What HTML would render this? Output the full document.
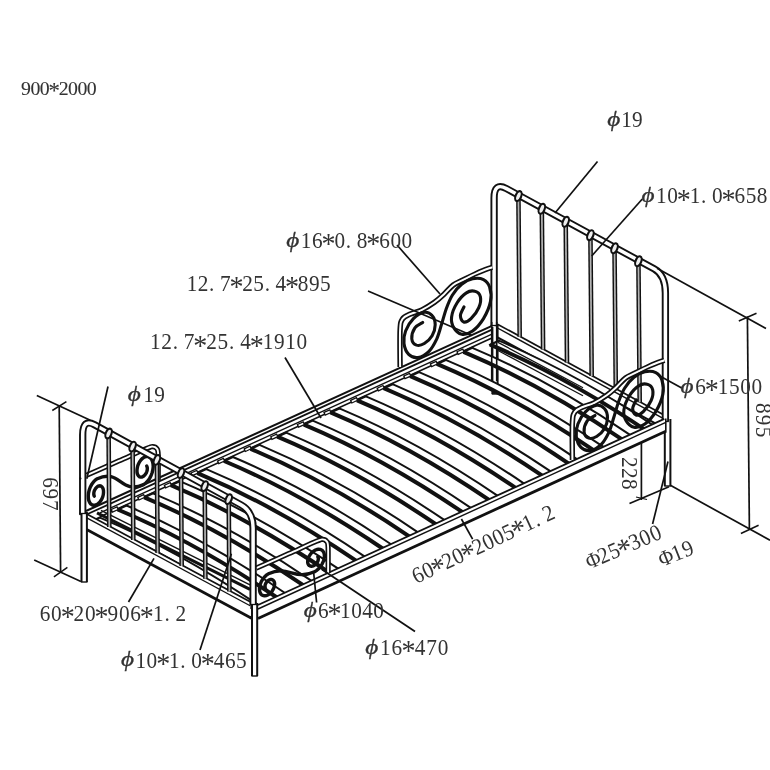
<!DOCTYPE html>
<html lang="en">
<head>
<meta charset="utf-8">
<title>Bed frame drawing 900*2000</title>
<style>
html,body{margin:0;padding:0;background:#fff;}
body{width:770px;height:770px;overflow:hidden;}
svg{display:block;font-family:"Liberation Serif","DejaVu Serif",serif;filter:blur(0.55px);}
</style>
</head>
<body>
<svg width="770" height="770" viewBox="0 0 770 770">
<rect x="0" y="0" width="770" height="770" fill="#fff"/>
<path d="M497.5,324.2 L664,415" fill="none" stroke="#111" stroke-width="1.7" stroke-linecap="butt" stroke-linejoin="round"/>
<path d="M497.5,328 L664,418.8" fill="none" stroke="#111" stroke-width="1.4" stroke-linecap="butt" stroke-linejoin="round"/>
<path d="M497.5,337.4 L664,428.2" fill="none" stroke="#111" stroke-width="2.1" stroke-linecap="butt" stroke-linejoin="round"/>
<path d="M497.5,342.1 L664,432.9" fill="none" stroke="#111" stroke-width="1.4" stroke-linecap="butt" stroke-linejoin="round"/>
<path d="M86,511 L492.5,325.6" fill="none" stroke="#111" stroke-width="2" stroke-linecap="butt" stroke-linejoin="round"/>
<path d="M86,514.8 L492.5,329.4" fill="none" stroke="#111" stroke-width="1.8" stroke-linecap="butt" stroke-linejoin="round"/>
<path d="M100,512.8 L492.5,333.8" fill="none" stroke="#111" stroke-width="1.4" stroke-linecap="butt" stroke-linejoin="round"/>
<path d="M100,516.8 L492.5,337.8" fill="none" stroke="#111" stroke-width="1.6" stroke-linecap="butt" stroke-linejoin="round"/>
<path d="M518.4,195.1 L519.7,336.8" fill="none" stroke="#111" stroke-width="4.6" stroke-linecap="butt" stroke-linejoin="round"/>
<path d="M518.4,195.1 L519.7,336.8" fill="none" stroke="#b4b4b4" stroke-width="1.7" stroke-linecap="butt" stroke-linejoin="round"/>
<path d="M541.8,207.8 L543.1,349.6" fill="none" stroke="#111" stroke-width="4.6" stroke-linecap="butt" stroke-linejoin="round"/>
<path d="M541.8,207.8 L543.1,349.6" fill="none" stroke="#b4b4b4" stroke-width="1.7" stroke-linecap="butt" stroke-linejoin="round"/>
<path d="M565.7,220.8 L567,362.6" fill="none" stroke="#111" stroke-width="4.6" stroke-linecap="butt" stroke-linejoin="round"/>
<path d="M565.7,220.8 L567,362.6" fill="none" stroke="#b4b4b4" stroke-width="1.7" stroke-linecap="butt" stroke-linejoin="round"/>
<path d="M590.4,234.2 L591.7,376.1" fill="none" stroke="#111" stroke-width="4.6" stroke-linecap="butt" stroke-linejoin="round"/>
<path d="M590.4,234.2 L591.7,376.1" fill="none" stroke="#b4b4b4" stroke-width="1.7" stroke-linecap="butt" stroke-linejoin="round"/>
<path d="M614.5,247.3 L615.8,389.2" fill="none" stroke="#111" stroke-width="4.6" stroke-linecap="butt" stroke-linejoin="round"/>
<path d="M614.5,247.3 L615.8,389.2" fill="none" stroke="#b4b4b4" stroke-width="1.7" stroke-linecap="butt" stroke-linejoin="round"/>
<path d="M638.4,260.3 L639.7,402.2" fill="none" stroke="#111" stroke-width="4.6" stroke-linecap="butt" stroke-linejoin="round"/>
<path d="M638.4,260.3 L639.7,402.2" fill="none" stroke="#b4b4b4" stroke-width="1.7" stroke-linecap="butt" stroke-linejoin="round"/>
<path d="M495,324 L495,394" fill="none" stroke="#111" stroke-width="7.2" stroke-linecap="butt" stroke-linejoin="round"/>
<path d="M495,324 L495,394" fill="none" stroke="#fff" stroke-width="3.2" stroke-linecap="butt" stroke-linejoin="round"/>
<path d="M667.6,419 L667.6,486" fill="none" stroke="#111" stroke-width="7.6" stroke-linecap="butt" stroke-linejoin="round"/>
<path d="M667.6,419 L667.6,486" fill="none" stroke="#fff" stroke-width="3.6" stroke-linecap="butt" stroke-linejoin="round"/>
<path d="M491.8,394 L498.2,394" fill="none" stroke="#111" stroke-width="1.4" stroke-linecap="butt" stroke-linejoin="round"/>
<path d="M664.2,486 L671,486" fill="none" stroke="#111" stroke-width="1.4" stroke-linecap="butt" stroke-linejoin="round"/>
<path d="M494.1,327 L494.1,198 Q494.1,181.9 506.5,188.6 L654,268.8 Q665.4,275 665.4,293 L665.4,421.5" fill="none" stroke="#111" stroke-width="7.3" stroke-linecap="butt" stroke-linejoin="round"/>
<path d="M494.1,327 L494.1,198 Q494.1,181.9 506.5,188.6 L654,268.8 Q665.4,275 665.4,293 L665.4,421.5" fill="none" stroke="#fff" stroke-width="3.5" stroke-linecap="butt" stroke-linejoin="round"/>
<path d="M662,421.5 L668.8,421.5" fill="none" stroke="#111" stroke-width="1.3" stroke-linecap="butt" stroke-linejoin="round"/>
<path d="M490.7,325.5 L497.7,325.5" fill="none" stroke="#111" stroke-width="1.3" stroke-linecap="butt" stroke-linejoin="round"/>
<ellipse cx="518.4" cy="196.1" rx="2.8" ry="5.2" fill="#eee" stroke="#111" stroke-width="2.1" transform="rotate(22 518.4 196.1)"/>
<ellipse cx="541.8" cy="208.8" rx="2.8" ry="5.2" fill="#eee" stroke="#111" stroke-width="2.1" transform="rotate(22 541.8 208.8)"/>
<ellipse cx="565.7" cy="221.8" rx="2.8" ry="5.2" fill="#eee" stroke="#111" stroke-width="2.1" transform="rotate(22 565.7 221.8)"/>
<ellipse cx="590.4" cy="235.2" rx="2.8" ry="5.2" fill="#eee" stroke="#111" stroke-width="2.1" transform="rotate(22 590.4 235.2)"/>
<ellipse cx="614.5" cy="248.3" rx="2.8" ry="5.2" fill="#eee" stroke="#111" stroke-width="2.1" transform="rotate(22 614.5 248.3)"/>
<ellipse cx="638.4" cy="261.3" rx="2.8" ry="5.2" fill="#eee" stroke="#111" stroke-width="2.1" transform="rotate(22 638.4 261.3)"/>
<path d="M400.1,367 C400.1,360.8 399.7,338 400.1,330 C400.5,322 400.8,321.7 402.5,319 C404.2,316.3 407.2,315.5 410.5,314 C413.8,312.5 418,311.8 422,309.8 C426,307.8 430.8,304.8 434.5,302.2 C438.2,299.6 440.9,297.1 444,294.2 C447.1,291.3 450.2,287.3 453.3,285 C456.4,282.7 458.4,282.3 462.5,280.2 C466.6,278.1 473.1,274.8 478,272.6 C482.9,270.4 489.7,268.1 492,267.2" fill="none" stroke="#111" stroke-width="5.4" stroke-linecap="butt" stroke-linejoin="round"/>
<path d="M400.1,367 C400.1,360.8 399.7,338 400.1,330 C400.5,322 400.8,321.7 402.5,319 C404.2,316.3 407.2,315.5 410.5,314 C413.8,312.5 418,311.8 422,309.8 C426,307.8 430.8,304.8 434.5,302.2 C438.2,299.6 440.9,297.1 444,294.2 C447.1,291.3 450.2,287.3 453.3,285 C456.4,282.7 458.4,282.3 462.5,280.2 C466.6,278.1 473.1,274.8 478,272.6 C482.9,270.4 489.7,268.1 492,267.2" fill="none" stroke="#fff" stroke-width="2" stroke-linecap="butt" stroke-linejoin="round"/>
<path d="M464,306.9 C463.4,308.3 460.5,312.9 460.4,315.5 C460.4,318 461.8,321.5 463.6,322 C465.3,322.5 468.5,321 471,318.6 C473.6,316.2 477.3,311.3 478.8,307.7 C480.4,304 481,299.5 480.4,296.8 C479.7,294 477.3,291.9 474.9,291.3 C472.6,290.6 469.3,290.9 466.4,292.9 C463.4,294.8 459.5,299 457,303 C454.5,307 452.1,312.9 451.6,317 C451,321.2 452.2,325.1 453.9,327.9 C455.6,330.8 458.6,333.6 461.7,334.2 C464.8,334.7 469,333.6 472.6,331 C476.2,328.4 480.5,323.5 483.5,318.6 C486.5,313.6 489.5,306.6 490.5,301.4 C491.6,296.2 490.9,291 489.7,287.4 C488.6,283.8 486.4,281 483.5,279.6 C480.6,278.2 476.2,278.1 472.6,278.8 C469,279.6 465.1,281.6 461.7,284.3 C458.3,287 454.9,291 452.3,295.2 C449.7,299.3 447.9,304.3 446.1,309.2 C444.3,314.2 443,319.9 441.4,324.8 C439.9,329.7 438.8,334.4 436.8,338.8 C434.7,343.2 432.1,348.2 429,351.3 C425.8,354.4 421.4,357 418.1,357.5 C414.7,358 411,356.7 408.7,354.4 C406.4,352.1 404.5,347.4 404,343.5 C403.5,339.6 404,335.2 405.6,331 C407.1,326.9 410.3,321.7 413.4,318.6 C416.5,315.5 421.2,312.9 424.3,312.3 C427.4,311.8 430.3,313.4 432.1,315.5 C433.9,317.5 435.2,321.4 435.2,324.8 C435.2,328.2 433.9,332.6 432.1,335.7 C430.3,338.8 426.9,341.9 424.3,343.5 C421.7,345.1 418.6,345.8 416.5,345.1 C414.4,344.3 412.1,341.7 411.8,338.8 C411.6,336 413.1,330.6 414.9,327.9 C416.8,325.2 421.4,323.4 422.7,322.5" fill="none" stroke="#111" stroke-width="3.1" stroke-linecap="round" stroke-linejoin="round"/>
<path d="M94.3,496.2 L94,495.5 L93.8,494.6 L93.8,493.6 L93.9,492.4 L94.2,491.2 L94.7,490 L95.4,488.8 L96.2,487.7 L97.1,486.9 L98.1,486.2 L99.1,485.9 L100.1,485.8 L101.1,486.2 L102,486.8 L102.7,487.9 L103.2,489.2 L103.5,490.8 L103.5,492.6 L103.3,494.6 L102.8,496.6 L102,498.7 L100.9,500.6 L99.7,502.2 L98.2,503.6 L96.7,504.6 L95.1,505.2 L93.5,505.3 L92.1,504.9 L90.7,503.9 L89.7,502.5 L88.8,500.6 L88.4,498.4 L88.3,495.8 L88.5,493 L89.2,490.1 L90.2,487.3 L91.6,484.6 L93.3,482.2 L95.2,480.2 L97.3,478.7 C120.3,468.2 120.6,495.1 143.6,484.6 L145.8,483 L147.8,480.9 L149.6,478.4 L151.1,475.5 L152.2,472.5 L152.9,469.5 L153.2,466.6 L153,463.9 L152.5,461.5 L151.7,459.5 L150.5,458 L149.1,457 L147.6,456.5 L145.9,456.6 L144.2,457.2 L142.6,458.3 L141.1,459.8 L139.8,461.5 L138.7,463.5 L137.8,465.7 L137.3,467.8 L137,469.9 L137,471.9 L137.3,473.6 L137.9,475 L138.6,476 L139.6,476.8 L140.6,477.1 L141.7,477.1 L142.8,476.7 L143.8,476 L144.8,475.1 L145.6,474 L146.3,472.8 L146.8,471.5 L147.2,470.2 L147.3,468.9 L147.3,467.8 L147.1,466.9 L146.7,466.1" fill="none" stroke="#111" stroke-width="3.4" stroke-linecap="round" stroke-linejoin="round"/>
<path d="M86.3,475.3 C91.7,472.9 108.7,465.4 118.8,460.9 C128.9,456.4 141.1,450.8 146.8,448.4 C152.5,446 151.1,446.6 152.8,446.6 C154.5,446.6 155.9,447.3 156.8,448.6 C157.7,449.9 158,449.3 158.2,454.5 C158.4,459.7 158.2,475.8 158.2,480" fill="none" stroke="#111" stroke-width="5.2" stroke-linecap="butt" stroke-linejoin="round"/>
<path d="M86.3,475.3 C91.7,472.9 108.7,465.4 118.8,460.9 C128.9,456.4 141.1,450.8 146.8,448.4 C152.5,446 151.1,446.6 152.8,446.6 C154.5,446.6 155.9,447.3 156.8,448.6 C157.7,449.9 158,449.3 158.2,454.5 C158.4,459.7 158.2,475.8 158.2,480" fill="none" stroke="#fff" stroke-width="1.9" stroke-linecap="butt" stroke-linejoin="round"/>
<path d="M498.9,340.7 Q577.4,373.7 658.9,429.2 L650.1,433.2 Q568.6,377.7 490.1,344.7Z" fill="#fff" stroke="none" stroke-width="0" stroke-linecap="butt" stroke-linejoin="round"/>
<path d="M498.9,340.7 Q577.4,373.7 658.9,429.2" fill="none" stroke="#111" stroke-width="2" stroke-linecap="butt" stroke-linejoin="round"/>
<path d="M490.1,344.7 Q568.6,377.7 650.1,433.2" fill="none" stroke="#111" stroke-width="4" stroke-linecap="butt" stroke-linejoin="round"/>
<path d="M489.1,345.2 L499.9,340.2" fill="none" stroke="#111" stroke-width="2.2" stroke-linecap="butt" stroke-linejoin="round"/>
<path d="M472.3,347.8 Q550.8,380.8 632.3,436.3 L623.5,440.3 Q542,384.8 463.5,351.8Z" fill="#fff" stroke="none" stroke-width="0" stroke-linecap="butt" stroke-linejoin="round"/>
<path d="M472.3,347.8 Q550.8,380.8 632.3,436.3" fill="none" stroke="#111" stroke-width="2" stroke-linecap="butt" stroke-linejoin="round"/>
<path d="M463.5,351.8 Q542,384.8 623.5,440.3" fill="none" stroke="#111" stroke-width="4" stroke-linecap="butt" stroke-linejoin="round"/>
<path d="M462.5,352.3 L473.3,347.3" fill="none" stroke="#111" stroke-width="2.2" stroke-linecap="butt" stroke-linejoin="round"/>
<path d="M457,353.4 L464,350.2" fill="none" stroke="#111" stroke-width="4.2" stroke-linecap="butt" stroke-linejoin="round"/>
<path d="M458.2,352.8 L462.8,350.7" fill="none" stroke="#fff" stroke-width="1.6" stroke-linecap="butt" stroke-linejoin="round"/>
<path d="M445.7,359.9 Q524.2,392.9 605.7,448.4 L596.9,452.4 Q515.4,396.9 436.9,363.9Z" fill="#fff" stroke="none" stroke-width="0" stroke-linecap="butt" stroke-linejoin="round"/>
<path d="M445.7,359.9 Q524.2,392.9 605.7,448.4" fill="none" stroke="#111" stroke-width="2" stroke-linecap="butt" stroke-linejoin="round"/>
<path d="M436.9,363.9 Q515.4,396.9 596.9,452.4" fill="none" stroke="#111" stroke-width="4" stroke-linecap="butt" stroke-linejoin="round"/>
<path d="M435.9,364.4 L446.7,359.4" fill="none" stroke="#111" stroke-width="2.2" stroke-linecap="butt" stroke-linejoin="round"/>
<path d="M430.4,365.5 L437.4,362.3" fill="none" stroke="#111" stroke-width="4.2" stroke-linecap="butt" stroke-linejoin="round"/>
<path d="M431.6,365 L436.2,362.9" fill="none" stroke="#fff" stroke-width="1.6" stroke-linecap="butt" stroke-linejoin="round"/>
<path d="M419.1,372.1 Q497.6,405.1 579.1,460.6 L570.3,464.6 Q488.8,409.1 410.3,376.1Z" fill="#fff" stroke="none" stroke-width="0" stroke-linecap="butt" stroke-linejoin="round"/>
<path d="M419.1,372.1 Q497.6,405.1 579.1,460.6" fill="none" stroke="#111" stroke-width="2" stroke-linecap="butt" stroke-linejoin="round"/>
<path d="M410.3,376.1 Q488.8,409.1 570.3,464.6" fill="none" stroke="#111" stroke-width="4" stroke-linecap="butt" stroke-linejoin="round"/>
<path d="M409.3,376.6 L420.1,371.6" fill="none" stroke="#111" stroke-width="2.2" stroke-linecap="butt" stroke-linejoin="round"/>
<path d="M403.8,377.7 L410.8,374.5" fill="none" stroke="#111" stroke-width="4.2" stroke-linecap="butt" stroke-linejoin="round"/>
<path d="M405,377.1 L409.6,375" fill="none" stroke="#fff" stroke-width="1.6" stroke-linecap="butt" stroke-linejoin="round"/>
<path d="M392.5,384.2 Q471,417.2 552.5,472.7 L543.7,476.7 Q462.2,421.2 383.7,388.2Z" fill="#fff" stroke="none" stroke-width="0" stroke-linecap="butt" stroke-linejoin="round"/>
<path d="M392.5,384.2 Q471,417.2 552.5,472.7" fill="none" stroke="#111" stroke-width="2" stroke-linecap="butt" stroke-linejoin="round"/>
<path d="M383.7,388.2 Q462.2,421.2 543.7,476.7" fill="none" stroke="#111" stroke-width="4" stroke-linecap="butt" stroke-linejoin="round"/>
<path d="M382.7,388.7 L393.5,383.7" fill="none" stroke="#111" stroke-width="2.2" stroke-linecap="butt" stroke-linejoin="round"/>
<path d="M377.2,389.8 L384.2,386.6" fill="none" stroke="#111" stroke-width="4.2" stroke-linecap="butt" stroke-linejoin="round"/>
<path d="M378.4,389.2 L383,387.1" fill="none" stroke="#fff" stroke-width="1.6" stroke-linecap="butt" stroke-linejoin="round"/>
<path d="M365.9,396.3 Q444.4,429.3 525.9,484.8 L517.1,488.8 Q435.6,433.3 357.1,400.3Z" fill="#fff" stroke="none" stroke-width="0" stroke-linecap="butt" stroke-linejoin="round"/>
<path d="M365.9,396.3 Q444.4,429.3 525.9,484.8" fill="none" stroke="#111" stroke-width="2" stroke-linecap="butt" stroke-linejoin="round"/>
<path d="M357.1,400.3 Q435.6,433.3 517.1,488.8" fill="none" stroke="#111" stroke-width="4" stroke-linecap="butt" stroke-linejoin="round"/>
<path d="M356.1,400.8 L366.9,395.8" fill="none" stroke="#111" stroke-width="2.2" stroke-linecap="butt" stroke-linejoin="round"/>
<path d="M350.6,401.9 L357.6,398.7" fill="none" stroke="#111" stroke-width="4.2" stroke-linecap="butt" stroke-linejoin="round"/>
<path d="M351.8,401.4 L356.4,399.3" fill="none" stroke="#fff" stroke-width="1.6" stroke-linecap="butt" stroke-linejoin="round"/>
<path d="M339.3,408.4 Q417.8,441.4 499.3,496.9 L490.5,500.9 Q409,445.4 330.5,412.4Z" fill="#fff" stroke="none" stroke-width="0" stroke-linecap="butt" stroke-linejoin="round"/>
<path d="M339.3,408.4 Q417.8,441.4 499.3,496.9" fill="none" stroke="#111" stroke-width="2" stroke-linecap="butt" stroke-linejoin="round"/>
<path d="M330.5,412.4 Q409,445.4 490.5,500.9" fill="none" stroke="#111" stroke-width="4" stroke-linecap="butt" stroke-linejoin="round"/>
<path d="M329.5,412.9 L340.3,407.9" fill="none" stroke="#111" stroke-width="2.2" stroke-linecap="butt" stroke-linejoin="round"/>
<path d="M324,414 L331,410.8" fill="none" stroke="#111" stroke-width="4.2" stroke-linecap="butt" stroke-linejoin="round"/>
<path d="M325.2,413.5 L329.8,411.4" fill="none" stroke="#fff" stroke-width="1.6" stroke-linecap="butt" stroke-linejoin="round"/>
<path d="M312.7,420.6 Q391.2,453.6 472.7,509.1 L463.9,513.1 Q382.4,457.6 303.9,424.6Z" fill="#fff" stroke="none" stroke-width="0" stroke-linecap="butt" stroke-linejoin="round"/>
<path d="M312.7,420.6 Q391.2,453.6 472.7,509.1" fill="none" stroke="#111" stroke-width="2" stroke-linecap="butt" stroke-linejoin="round"/>
<path d="M303.9,424.6 Q382.4,457.6 463.9,513.1" fill="none" stroke="#111" stroke-width="4" stroke-linecap="butt" stroke-linejoin="round"/>
<path d="M302.9,425.1 L313.7,420.1" fill="none" stroke="#111" stroke-width="2.2" stroke-linecap="butt" stroke-linejoin="round"/>
<path d="M297.4,426.2 L304.4,423" fill="none" stroke="#111" stroke-width="4.2" stroke-linecap="butt" stroke-linejoin="round"/>
<path d="M298.6,425.6 L303.2,423.5" fill="none" stroke="#fff" stroke-width="1.6" stroke-linecap="butt" stroke-linejoin="round"/>
<path d="M286.1,432.7 Q364.6,465.7 446.1,521.2 L437.3,525.2 Q355.8,469.7 277.3,436.7Z" fill="#fff" stroke="none" stroke-width="0" stroke-linecap="butt" stroke-linejoin="round"/>
<path d="M286.1,432.7 Q364.6,465.7 446.1,521.2" fill="none" stroke="#111" stroke-width="2" stroke-linecap="butt" stroke-linejoin="round"/>
<path d="M277.3,436.7 Q355.8,469.7 437.3,525.2" fill="none" stroke="#111" stroke-width="4" stroke-linecap="butt" stroke-linejoin="round"/>
<path d="M276.3,437.2 L287.1,432.2" fill="none" stroke="#111" stroke-width="2.2" stroke-linecap="butt" stroke-linejoin="round"/>
<path d="M270.8,438.3 L277.8,435.1" fill="none" stroke="#111" stroke-width="4.2" stroke-linecap="butt" stroke-linejoin="round"/>
<path d="M272,437.8 L276.6,435.6" fill="none" stroke="#fff" stroke-width="1.6" stroke-linecap="butt" stroke-linejoin="round"/>
<path d="M259.5,444.8 Q338,477.8 419.5,533.3 L410.7,537.3 Q329.2,481.8 250.7,448.8Z" fill="#fff" stroke="none" stroke-width="0" stroke-linecap="butt" stroke-linejoin="round"/>
<path d="M259.5,444.8 Q338,477.8 419.5,533.3" fill="none" stroke="#111" stroke-width="2" stroke-linecap="butt" stroke-linejoin="round"/>
<path d="M250.7,448.8 Q329.2,481.8 410.7,537.3" fill="none" stroke="#111" stroke-width="4" stroke-linecap="butt" stroke-linejoin="round"/>
<path d="M249.7,449.3 L260.5,444.3" fill="none" stroke="#111" stroke-width="2.2" stroke-linecap="butt" stroke-linejoin="round"/>
<path d="M244.2,450.4 L251.2,447.2" fill="none" stroke="#111" stroke-width="4.2" stroke-linecap="butt" stroke-linejoin="round"/>
<path d="M245.4,449.9 L250,447.8" fill="none" stroke="#fff" stroke-width="1.6" stroke-linecap="butt" stroke-linejoin="round"/>
<path d="M232.9,457 Q311.4,490 392.9,545.5 L384.1,549.5 Q302.6,494 224.1,461Z" fill="#fff" stroke="none" stroke-width="0" stroke-linecap="butt" stroke-linejoin="round"/>
<path d="M232.9,457 Q311.4,490 392.9,545.5" fill="none" stroke="#111" stroke-width="2" stroke-linecap="butt" stroke-linejoin="round"/>
<path d="M224.1,461 Q302.6,494 384.1,549.5" fill="none" stroke="#111" stroke-width="4" stroke-linecap="butt" stroke-linejoin="round"/>
<path d="M223.1,461.5 L233.9,456.5" fill="none" stroke="#111" stroke-width="2.2" stroke-linecap="butt" stroke-linejoin="round"/>
<path d="M217.6,462.6 L224.6,459.4" fill="none" stroke="#111" stroke-width="4.2" stroke-linecap="butt" stroke-linejoin="round"/>
<path d="M218.8,462 L223.4,459.9" fill="none" stroke="#fff" stroke-width="1.6" stroke-linecap="butt" stroke-linejoin="round"/>
<path d="M206.3,469.1 Q284.8,502.1 366.3,557.6 L357.5,561.6 Q276,506.1 197.5,473.1Z" fill="#fff" stroke="none" stroke-width="0" stroke-linecap="butt" stroke-linejoin="round"/>
<path d="M206.3,469.1 Q284.8,502.1 366.3,557.6" fill="none" stroke="#111" stroke-width="2" stroke-linecap="butt" stroke-linejoin="round"/>
<path d="M197.5,473.1 Q276,506.1 357.5,561.6" fill="none" stroke="#111" stroke-width="4" stroke-linecap="butt" stroke-linejoin="round"/>
<path d="M196.5,473.6 L207.3,468.6" fill="none" stroke="#111" stroke-width="2.2" stroke-linecap="butt" stroke-linejoin="round"/>
<path d="M191,474.7 L198,471.5" fill="none" stroke="#111" stroke-width="4.2" stroke-linecap="butt" stroke-linejoin="round"/>
<path d="M192.2,474.1 L196.8,472" fill="none" stroke="#fff" stroke-width="1.6" stroke-linecap="butt" stroke-linejoin="round"/>
<path d="M179.7,481.2 Q258.2,514.2 339.7,569.7 L330.9,573.7 Q249.4,518.2 170.9,485.2Z" fill="#fff" stroke="none" stroke-width="0" stroke-linecap="butt" stroke-linejoin="round"/>
<path d="M179.7,481.2 Q258.2,514.2 339.7,569.7" fill="none" stroke="#111" stroke-width="2" stroke-linecap="butt" stroke-linejoin="round"/>
<path d="M170.9,485.2 Q249.4,518.2 330.9,573.7" fill="none" stroke="#111" stroke-width="4" stroke-linecap="butt" stroke-linejoin="round"/>
<path d="M169.9,485.7 L180.7,480.7" fill="none" stroke="#111" stroke-width="2.2" stroke-linecap="butt" stroke-linejoin="round"/>
<path d="M164.4,486.8 L171.4,483.6" fill="none" stroke="#111" stroke-width="4.2" stroke-linecap="butt" stroke-linejoin="round"/>
<path d="M165.6,486.3 L170.2,484.2" fill="none" stroke="#fff" stroke-width="1.6" stroke-linecap="butt" stroke-linejoin="round"/>
<path d="M153.1,493.3 Q231.6,526.3 313.1,581.8 L304.3,585.8 Q222.8,530.3 144.3,497.3Z" fill="#fff" stroke="none" stroke-width="0" stroke-linecap="butt" stroke-linejoin="round"/>
<path d="M153.1,493.3 Q231.6,526.3 313.1,581.8" fill="none" stroke="#111" stroke-width="2" stroke-linecap="butt" stroke-linejoin="round"/>
<path d="M144.3,497.3 Q222.8,530.3 304.3,585.8" fill="none" stroke="#111" stroke-width="4" stroke-linecap="butt" stroke-linejoin="round"/>
<path d="M143.3,497.8 L154.1,492.8" fill="none" stroke="#111" stroke-width="2.2" stroke-linecap="butt" stroke-linejoin="round"/>
<path d="M137.8,498.9 L144.8,495.7" fill="none" stroke="#111" stroke-width="4.2" stroke-linecap="butt" stroke-linejoin="round"/>
<path d="M139,498.4 L143.6,496.3" fill="none" stroke="#fff" stroke-width="1.6" stroke-linecap="butt" stroke-linejoin="round"/>
<path d="M126.5,505.5 Q205,538.5 286.5,594 L277.7,598 Q196.2,542.5 117.7,509.5Z" fill="#fff" stroke="none" stroke-width="0" stroke-linecap="butt" stroke-linejoin="round"/>
<path d="M126.5,505.5 Q205,538.5 286.5,594" fill="none" stroke="#111" stroke-width="2" stroke-linecap="butt" stroke-linejoin="round"/>
<path d="M117.7,509.5 Q196.2,542.5 277.7,598" fill="none" stroke="#111" stroke-width="4" stroke-linecap="butt" stroke-linejoin="round"/>
<path d="M116.7,510 L127.5,505" fill="none" stroke="#111" stroke-width="2.2" stroke-linecap="butt" stroke-linejoin="round"/>
<path d="M111.2,511.1 L118.2,507.9" fill="none" stroke="#111" stroke-width="4.2" stroke-linecap="butt" stroke-linejoin="round"/>
<path d="M112.4,510.5 L117,508.4" fill="none" stroke="#fff" stroke-width="1.6" stroke-linecap="butt" stroke-linejoin="round"/>
<path d="M99.9,517.6 Q178.4,550.6 259.9,606.1 L251.1,610.1 Q169.6,554.6 91.1,521.6Z" fill="#fff" stroke="none" stroke-width="0" stroke-linecap="butt" stroke-linejoin="round"/>
<path d="M99.9,517.6 Q178.4,550.6 259.9,606.1" fill="none" stroke="#111" stroke-width="2" stroke-linecap="butt" stroke-linejoin="round"/>
<path d="M91.1,521.6 Q169.6,554.6 251.1,610.1" fill="none" stroke="#111" stroke-width="4" stroke-linecap="butt" stroke-linejoin="round"/>
<path d="M90.1,522.1 L100.9,517.1" fill="none" stroke="#111" stroke-width="2.2" stroke-linecap="butt" stroke-linejoin="round"/>
<path d="M97,512.8 L250,589.3" fill="none" stroke="#111" stroke-width="3" stroke-linecap="butt" stroke-linejoin="round"/>
<path d="M101,510.4 L250,584.9" fill="none" stroke="#111" stroke-width="1.4" stroke-linecap="butt" stroke-linejoin="round"/>
<path d="M498,342.4 L583,387.7" fill="none" stroke="#111" stroke-width="1.3" stroke-linecap="butt" stroke-linejoin="round"/>
<path d="M498,350.5 L583,395.8" fill="none" stroke="#111" stroke-width="1.3" stroke-linecap="butt" stroke-linejoin="round"/>
<path d="M491.7,322 L491.7,381" fill="none" stroke="#111" stroke-width="1.6" stroke-linecap="butt" stroke-linejoin="round"/>
<path d="M496.7,322 L496.7,381" fill="none" stroke="#111" stroke-width="1.6" stroke-linecap="butt" stroke-linejoin="round"/>
<ellipse cx="494.2" cy="392.5" rx="2.4" ry="1.4" fill="#111"/>
<path d="M265.5,588.4 L265.1,587.8 L265,587.1 L264.9,586.2 L265.1,585.3 L265.4,584.3 L265.8,583.2 L266.5,582.2 L267.3,581.3 L268.2,580.5 L269.2,579.9 L270.2,579.5 L271.2,579.4 L272.2,579.6 L273,580.1 L273.8,580.9 L274.3,581.9 L274.6,583.2 L274.6,584.7 L274.3,586.3 L273.8,588 L273,589.7 L272,591.4 L270.7,592.8 L269.3,594.1 L267.8,595 L266.2,595.6 L264.7,595.8 L263.2,595.6 L261.9,594.9 L260.8,593.9 L260,592.4 L259.6,590.6 L259.5,588.5 L259.7,586.2 L260.4,583.8 L261.4,581.4 L262.8,579.1 L264.5,577 L266.3,575.2 L268.4,573.8 C288.4,564.7 294.5,580.9 314.5,571.8 L316.8,570.3 L318.9,568.4 L320.7,566.2 L322.2,563.8 L323.4,561.3 L324.1,558.9 L324.4,556.5 L324.3,554.4 L323.8,552.5 L322.9,551.1 L321.7,550 L320.2,549.4 L318.6,549.2 L316.9,549.5 L315.2,550.1 L313.5,551.2 L311.9,552.5 L310.5,554.1 L309.4,555.8 L308.5,557.5 L307.9,559.3 L307.7,561 L307.7,562.5 L308,563.8 L308.6,564.9 L309.4,565.6 L310.3,566.1 L311.4,566.2 L312.5,566.1 L313.7,565.7 L314.7,565 L315.7,564.2 L316.6,563.2 L317.3,562.1 L317.9,561.1 L318.2,560 L318.3,559 L318.3,558.2 L318.1,557.4 L317.8,556.9" fill="none" stroke="#111" stroke-width="3.4" stroke-linecap="round" stroke-linejoin="round"/>
<path d="M258,605 L664.3,418.9 L665.8,419.2 L665.8,431.2 L258,618.5Z" fill="#fff" stroke="none" stroke-width="0" stroke-linecap="butt" stroke-linejoin="round"/>
<path d="M258,605 L664.3,418.9" fill="none" stroke="#111" stroke-width="1.8" stroke-linecap="butt" stroke-linejoin="round"/>
<path d="M258,609 L665.3,422.7" fill="none" stroke="#111" stroke-width="1.4" stroke-linecap="butt" stroke-linejoin="round"/>
<path d="M258,618.5 L665.8,431.2" fill="none" stroke="#111" stroke-width="2.8" stroke-linecap="butt" stroke-linejoin="round"/>
<path d="M665.8,418.5 L665.8,432.4" fill="none" stroke="#111" stroke-width="1.6" stroke-linecap="butt" stroke-linejoin="round"/>
<path d="M572.4,460 C572.4,453.8 572,431 572.4,423 C572.8,415 573.1,414.7 574.8,412 C576.5,409.3 579.5,408.5 582.8,407 C586,405.5 590.3,404.8 594.3,402.8 C598.3,400.8 603.1,397.8 606.8,395.2 C610.5,392.6 613.2,390.1 616.3,387.2 C619.4,384.3 622.5,380.3 625.6,378 C628.7,375.7 630.7,375.3 634.8,373.2 C638.9,371.1 645.4,367.8 650.3,365.6 C655.2,363.4 662,361.1 664.3,360.2" fill="none" stroke="#111" stroke-width="5.4" stroke-linecap="butt" stroke-linejoin="round"/>
<path d="M572.4,460 C572.4,453.8 572,431 572.4,423 C572.8,415 573.1,414.7 574.8,412 C576.5,409.3 579.5,408.5 582.8,407 C586,405.5 590.3,404.8 594.3,402.8 C598.3,400.8 603.1,397.8 606.8,395.2 C610.5,392.6 613.2,390.1 616.3,387.2 C619.4,384.3 622.5,380.3 625.6,378 C628.7,375.7 630.7,375.3 634.8,373.2 C638.9,371.1 645.4,367.8 650.3,365.6 C655.2,363.4 662,361.1 664.3,360.2" fill="none" stroke="#fff" stroke-width="2" stroke-linecap="butt" stroke-linejoin="round"/>
<path d="M636.3,399.9 C635.7,401.3 632.8,405.9 632.7,408.5 C632.7,411 634.1,414.5 635.9,415 C637.6,415.5 640.8,414 643.3,411.6 C645.9,409.2 649.6,404.3 651.1,400.7 C652.7,397 653.3,392.5 652.7,389.8 C652,387 649.6,384.9 647.2,384.3 C644.9,383.6 641.6,383.9 638.7,385.9 C635.7,387.8 631.8,392 629.3,396 C626.8,400 624.4,405.9 623.9,410 C623.3,414.2 624.5,418.1 626.2,420.9 C627.9,423.8 630.9,426.6 634,427.2 C637.1,427.7 641.3,426.6 644.9,424 C648.5,421.4 652.8,416.5 655.8,411.6 C658.8,406.6 661.8,399.6 662.8,394.4 C663.9,389.2 663.2,384 662,380.4 C660.9,376.8 658.7,374 655.8,372.6 C652.9,371.2 648.5,371.1 644.9,371.8 C641.3,372.6 637.4,374.6 634,377.3 C630.6,380 627.2,384 624.6,388.2 C622,392.3 620.2,397.3 618.4,402.2 C616.6,407.2 615.3,412.9 613.7,417.8 C612.2,422.7 611.1,427.4 609.1,431.8 C607,436.2 604.4,441.2 601.3,444.3 C598.1,447.4 593.7,450 590.4,450.5 C587,451 583.3,449.7 581,447.4 C578.7,445.1 576.8,440.4 576.3,436.5 C575.8,432.6 576.3,428.2 577.9,424 C579.4,419.9 582.6,414.7 585.7,411.6 C588.8,408.5 593.5,405.9 596.6,405.3 C599.7,404.8 602.6,406.4 604.4,408.5 C606.2,410.5 607.5,414.4 607.5,417.8 C607.5,421.2 606.2,425.6 604.4,428.7 C602.6,431.8 599.2,434.9 596.6,436.5 C594,438.1 590.9,438.8 588.8,438.1 C586.7,437.3 584.4,434.7 584.1,431.8 C583.9,429 585.4,423.6 587.2,420.9 C589.1,418.2 593.7,416.4 595,415.5" fill="none" stroke="#111" stroke-width="3.1" stroke-linecap="round" stroke-linejoin="round"/>
<path d="M256.2,568.1 C261.6,565.7 278.6,558.2 288.7,553.7 C298.8,549.2 311,543.6 316.7,541.2 C322.4,538.8 321,539.4 322.7,539.4 C324.4,539.4 325.8,540.1 326.7,541.4 C327.6,542.7 327.9,542.1 328.1,547.3 C328.3,552.5 328.1,568.5 328.1,572.8" fill="none" stroke="#111" stroke-width="5.2" stroke-linecap="butt" stroke-linejoin="round"/>
<path d="M256.2,568.1 C261.6,565.7 278.6,558.2 288.7,553.7 C298.8,549.2 311,543.6 316.7,541.2 C322.4,538.8 321,539.4 322.7,539.4 C324.4,539.4 325.8,540.1 326.7,541.4 C327.6,542.7 327.9,542.1 328.1,547.3 C328.3,552.5 328.1,568.5 328.1,572.8" fill="none" stroke="#fff" stroke-width="1.9" stroke-linecap="butt" stroke-linejoin="round"/>
<path d="M84,512.4 L252,602.8 L252,618.5 L84,526.5Z" fill="#fff" stroke="none" stroke-width="0" stroke-linecap="butt" stroke-linejoin="round"/>
<path d="M84,512.4 L252,602.8" fill="none" stroke="#111" stroke-width="1.7" stroke-linecap="butt" stroke-linejoin="round"/>
<path d="M84,516.4 L252,606.8" fill="none" stroke="#111" stroke-width="1.3" stroke-linecap="butt" stroke-linejoin="round"/>
<path d="M82,527 L252,618.5" fill="none" stroke="#111" stroke-width="2.7" stroke-linecap="butt" stroke-linejoin="round"/>
<path d="M108.6,432.5 L109.3,527" fill="none" stroke="#111" stroke-width="4.6" stroke-linecap="butt" stroke-linejoin="round"/>
<path d="M108.6,432.5 L109.3,527" fill="none" stroke="#b4b4b4" stroke-width="1.7" stroke-linecap="butt" stroke-linejoin="round"/>
<path d="M132.6,445.6 L133.3,539.9" fill="none" stroke="#111" stroke-width="4.6" stroke-linecap="butt" stroke-linejoin="round"/>
<path d="M132.6,445.6 L133.3,539.9" fill="none" stroke="#b4b4b4" stroke-width="1.7" stroke-linecap="butt" stroke-linejoin="round"/>
<path d="M156.9,458.9 L157.6,553" fill="none" stroke="#111" stroke-width="4.6" stroke-linecap="butt" stroke-linejoin="round"/>
<path d="M156.9,458.9 L157.6,553" fill="none" stroke="#b4b4b4" stroke-width="1.7" stroke-linecap="butt" stroke-linejoin="round"/>
<path d="M181,472.1 L181.7,566" fill="none" stroke="#111" stroke-width="4.6" stroke-linecap="butt" stroke-linejoin="round"/>
<path d="M181,472.1 L181.7,566" fill="none" stroke="#b4b4b4" stroke-width="1.7" stroke-linecap="butt" stroke-linejoin="round"/>
<path d="M204.7,485.1 L205.4,578.7" fill="none" stroke="#111" stroke-width="4.6" stroke-linecap="butt" stroke-linejoin="round"/>
<path d="M204.7,485.1 L205.4,578.7" fill="none" stroke="#b4b4b4" stroke-width="1.7" stroke-linecap="butt" stroke-linejoin="round"/>
<path d="M228.7,498.2 L229.4,591.6" fill="none" stroke="#111" stroke-width="4.6" stroke-linecap="butt" stroke-linejoin="round"/>
<path d="M228.7,498.2 L229.4,591.6" fill="none" stroke="#b4b4b4" stroke-width="1.7" stroke-linecap="butt" stroke-linejoin="round"/>
<path d="M84.2,512 L84.2,582" fill="none" stroke="#111" stroke-width="7.4" stroke-linecap="butt" stroke-linejoin="round"/>
<path d="M84.2,512 L84.2,582" fill="none" stroke="#fff" stroke-width="3.4" stroke-linecap="butt" stroke-linejoin="round"/>
<path d="M254.6,603 L254.6,676" fill="none" stroke="#111" stroke-width="7.2" stroke-linecap="butt" stroke-linejoin="round"/>
<path d="M254.6,603 L254.6,676" fill="none" stroke="#fff" stroke-width="3.2" stroke-linecap="butt" stroke-linejoin="round"/>
<path d="M80.9,582 L87.5,582" fill="none" stroke="#111" stroke-width="1.4" stroke-linecap="butt" stroke-linejoin="round"/>
<path d="M251.4,676 L257.8,676" fill="none" stroke="#111" stroke-width="1.4" stroke-linecap="butt" stroke-linejoin="round"/>
<path d="M82.7,514 L82.7,435 Q82.7,418.3 94.5,424.8 L241,504.9 Q253.1,511.5 253.1,528 L253.1,604.5" fill="none" stroke="#111" stroke-width="7.3" stroke-linecap="butt" stroke-linejoin="round"/>
<path d="M82.7,514 L82.7,435 Q82.7,418.3 94.5,424.8 L241,504.9 Q253.1,511.5 253.1,528 L253.1,604.5" fill="none" stroke="#fff" stroke-width="3.5" stroke-linecap="butt" stroke-linejoin="round"/>
<path d="M249.7,604.5 L257.7,604.5" fill="none" stroke="#111" stroke-width="1.3" stroke-linecap="butt" stroke-linejoin="round"/>
<path d="M79.3,513.5 L87.3,513.5" fill="none" stroke="#111" stroke-width="1.3" stroke-linecap="butt" stroke-linejoin="round"/>
<ellipse cx="108.6" cy="433.5" rx="2.8" ry="5.1" fill="#eee" stroke="#111" stroke-width="2.1" transform="rotate(22 108.6 433.5)"/>
<ellipse cx="132.6" cy="446.6" rx="2.8" ry="5.1" fill="#eee" stroke="#111" stroke-width="2.1" transform="rotate(22 132.6 446.6)"/>
<ellipse cx="156.9" cy="459.9" rx="2.8" ry="5.1" fill="#eee" stroke="#111" stroke-width="2.1" transform="rotate(22 156.9 459.9)"/>
<ellipse cx="181" cy="473.1" rx="2.8" ry="5.1" fill="#eee" stroke="#111" stroke-width="2.1" transform="rotate(22 181 473.1)"/>
<ellipse cx="204.7" cy="486.1" rx="2.8" ry="5.1" fill="#eee" stroke="#111" stroke-width="2.1" transform="rotate(22 204.7 486.1)"/>
<ellipse cx="228.7" cy="499.2" rx="2.8" ry="5.1" fill="#eee" stroke="#111" stroke-width="2.1" transform="rotate(22 228.7 499.2)"/>
<circle cx="251.4" cy="608" r="1.2" fill="#111"/>
<circle cx="251.4" cy="617" r="1.2" fill="#111"/>
<circle cx="80.2" cy="478.5" r="1.2" fill="#111"/>
<circle cx="80.2" cy="514" r="1.2" fill="#111"/>
<path d="M59.2,405 L60.6,572.3" fill="none" stroke="#111" stroke-width="1.7" stroke-linecap="butt" stroke-linejoin="round"/>
<path d="M36.8,395.4 L90.3,420.3" fill="none" stroke="#111" stroke-width="1.7" stroke-linecap="butt" stroke-linejoin="round"/>
<path d="M34.2,560.1 L80.9,581.4" fill="none" stroke="#111" stroke-width="1.7" stroke-linecap="butt" stroke-linejoin="round"/>
<path d="M52.3,410.5 L66.4,401.6" fill="none" stroke="#111" stroke-width="1.5" stroke-linecap="butt" stroke-linejoin="round"/>
<path d="M53.9,576.8 L67.4,567.4" fill="none" stroke="#111" stroke-width="1.5" stroke-linecap="butt" stroke-linejoin="round"/>
<path d="M747.4,316.5 L749.4,530" fill="none" stroke="#111" stroke-width="1.7" stroke-linecap="butt" stroke-linejoin="round"/>
<path d="M657,268.2 L766,328.5" fill="none" stroke="#111" stroke-width="1.7" stroke-linecap="butt" stroke-linejoin="round"/>
<path d="M670.8,485.5 L770,540.3" fill="none" stroke="#111" stroke-width="1.7" stroke-linecap="butt" stroke-linejoin="round"/>
<path d="M738.8,321 L756.5,313.2" fill="none" stroke="#111" stroke-width="1.5" stroke-linecap="butt" stroke-linejoin="round"/>
<path d="M740.9,533.5 L758.6,525.2" fill="none" stroke="#111" stroke-width="1.5" stroke-linecap="butt" stroke-linejoin="round"/>
<path d="M641.4,442 L641.4,500" fill="none" stroke="#111" stroke-width="1.7" stroke-linecap="butt" stroke-linejoin="round"/>
<path d="M629.5,503.5 L669,486.8" fill="none" stroke="#111" stroke-width="1.7" stroke-linecap="butt" stroke-linejoin="round"/>
<path d="M636,497 L647,499.5" fill="none" stroke="#111" stroke-width="1.2" stroke-linecap="butt" stroke-linejoin="round"/>
<path d="M597.5,161.5 L555,213" fill="none" stroke="#111" stroke-width="1.7" stroke-linecap="butt" stroke-linejoin="round"/>
<path d="M642.3,199 L591.7,256" fill="none" stroke="#111" stroke-width="1.7" stroke-linecap="butt" stroke-linejoin="round"/>
<path d="M397,245 L440,294" fill="none" stroke="#111" stroke-width="1.7" stroke-linecap="butt" stroke-linejoin="round"/>
<path d="M368,291 L472,335.5" fill="none" stroke="#111" stroke-width="1.7" stroke-linecap="butt" stroke-linejoin="round"/>
<path d="M285,357.5 L321,418" fill="none" stroke="#111" stroke-width="1.7" stroke-linecap="butt" stroke-linejoin="round"/>
<path d="M108,386.5 L86.8,478.7" fill="none" stroke="#111" stroke-width="1.7" stroke-linecap="butt" stroke-linejoin="round"/>
<path d="M154,558.4 L128.5,602" fill="none" stroke="#111" stroke-width="1.7" stroke-linecap="butt" stroke-linejoin="round"/>
<path d="M231.4,553.8 L200,650" fill="none" stroke="#111" stroke-width="1.7" stroke-linecap="butt" stroke-linejoin="round"/>
<path d="M313.6,572 L316.6,602.5" fill="none" stroke="#111" stroke-width="1.7" stroke-linecap="butt" stroke-linejoin="round"/>
<path d="M322,569.5 L415,631.5" fill="none" stroke="#111" stroke-width="1.7" stroke-linecap="butt" stroke-linejoin="round"/>
<path d="M681.7,388 L658,375" fill="none" stroke="#111" stroke-width="1.7" stroke-linecap="butt" stroke-linejoin="round"/>
<path d="M668,461.5 L652.6,524" fill="none" stroke="#111" stroke-width="1.7" stroke-linecap="butt" stroke-linejoin="round"/>
<path d="M461.4,519 L472.6,539.2" fill="none" stroke="#111" stroke-width="1.7" stroke-linecap="butt" stroke-linejoin="round"/>
<text transform="translate(21.3 94.6) scale(1.000 1)" y="0" font-size="19.8" text-anchor="middle" fill="#333" stroke="#333" stroke-width="0.1"><tspan x="4.7 14.1 23.5">900</tspan><tspan x="32.9" dy="3" font-size="22.8">*</tspan><tspan x="42.3 51.7 61.1 70.5" dy="-3">2000</tspan></text>
<text transform="translate(608 126.9) scale(0.930 1)" y="0" font-size="22.9" text-anchor="middle" fill="#333"><tspan x="6.3" dy="-1.2" font-style="italic" font-size="20.6" stroke="#333" stroke-width="0.3" textLength="14" lengthAdjust="spacingAndGlyphs">ϕ</tspan><tspan x="19.9 31.5" dy="1.2">19</tspan></text>
<text transform="translate(642.3 203.4) scale(0.930 1)" y="0" font-size="22.9" text-anchor="middle" fill="#333"><tspan x="6.1" dy="-1.2" font-style="italic" font-size="20.6" stroke="#333" stroke-width="0.3" textLength="14" lengthAdjust="spacingAndGlyphs">ϕ</tspan><tspan x="20.5 32.6" dy="1.2">10</tspan><tspan x="44.6" dy="5.1" font-size="30.2">*</tspan><tspan x="56.7 66 80.8" dy="-5.1">1.0</tspan><tspan x="92.8" dy="5.1" font-size="30.2">*</tspan><tspan x="104.8 116.9 128.9" dy="-5.1">658</tspan></text>
<text transform="translate(287 248) scale(0.930 1)" y="0" font-size="22.9" text-anchor="middle" fill="#333"><tspan x="6.1" dy="-1.2" font-style="italic" font-size="20.6" stroke="#333" stroke-width="0.3" textLength="14" lengthAdjust="spacingAndGlyphs">ϕ</tspan><tspan x="20.5 32.6" dy="1.2">16</tspan><tspan x="44.6" dy="5.1" font-size="30.2">*</tspan><tspan x="56.7 66 80.8" dy="-5.1">0.8</tspan><tspan x="92.8" dy="5.1" font-size="30.2">*</tspan><tspan x="104.8 116.9 128.9" dy="-5.1">600</tspan></text>
<text transform="translate(186.4 291.3) scale(0.930 1)" y="0" font-size="22.9" text-anchor="middle" fill="#333"><tspan x="6 17.9 27.3 41.8">12.7</tspan><tspan x="53.8" dy="5.1" font-size="30.2">*</tspan><tspan x="65.8 77.7 87 101.6" dy="-5.1">25.4</tspan><tspan x="113.6" dy="5.1" font-size="30.2">*</tspan><tspan x="125.5 137.5 149.5" dy="-5.1">895</tspan></text>
<text transform="translate(149.6 349.4) scale(0.930 1)" y="0" font-size="22.9" text-anchor="middle" fill="#333"><tspan x="6.1 18.2 27.7 42.5">12.7</tspan><tspan x="54.6" dy="5.1" font-size="30.2">*</tspan><tspan x="66.7 78.8 88.3 103.1" dy="-5.1">25.4</tspan><tspan x="115.2" dy="5.1" font-size="30.2">*</tspan><tspan x="127.4 139.5 151.6 163.7" dy="-5.1">1910</tspan></text>
<text transform="translate(128 402.4) scale(0.930 1)" y="0" font-size="22.9" text-anchor="middle" fill="#333"><tspan x="6.8" dy="-1.2" font-style="italic" font-size="20.6" stroke="#333" stroke-width="0.3" textLength="14" lengthAdjust="spacingAndGlyphs">ϕ</tspan><tspan x="22.2 33.9" dy="1.2">19</tspan></text>
<text transform="translate(681.3 394.3) scale(0.930 1)" y="0" font-size="22.9" text-anchor="middle" fill="#333"><tspan x="6.2" dy="-1.2" font-style="italic" font-size="20.6" stroke="#333" stroke-width="0.3" textLength="14" lengthAdjust="spacingAndGlyphs">ϕ</tspan><tspan x="20.6" dy="1.2">6</tspan><tspan x="32.7" dy="5.1" font-size="30.2">*</tspan><tspan x="44.8 56.9 69 81.1" dy="-5.1">1500</tspan></text>
<text transform="translate(39.3 620.6) scale(0.930 1)" y="0" font-size="22.9" text-anchor="middle" fill="#333"><tspan x="6.1 18.3">60</tspan><tspan x="30.5" dy="5.1" font-size="30.2">*</tspan><tspan x="42.6 54.8" dy="-5.1">20</tspan><tspan x="67" dy="5.1" font-size="30.2">*</tspan><tspan x="79.2 91.4 103.6" dy="-5.1">906</tspan><tspan x="115.7" dy="5.1" font-size="30.2">*</tspan><tspan x="127.9 137.4 152.3" dy="-5.1">1.2</tspan></text>
<text transform="translate(121.7 667.5) scale(0.930 1)" y="0" font-size="22.9" text-anchor="middle" fill="#333"><tspan x="6.1" dy="-1.2" font-style="italic" font-size="20.6" stroke="#333" stroke-width="0.3" textLength="14" lengthAdjust="spacingAndGlyphs">ϕ</tspan><tspan x="20.5 32.5" dy="1.2">10</tspan><tspan x="44.6" dy="5.1" font-size="30.2">*</tspan><tspan x="56.6 65.9 80.6" dy="-5.1">1.0</tspan><tspan x="92.6" dy="5.1" font-size="30.2">*</tspan><tspan x="104.7 116.7 128.7" dy="-5.1">465</tspan></text>
<text transform="translate(304.5 617.7) scale(0.930 1)" y="0" font-size="22.9" text-anchor="middle" fill="#333"><tspan x="6.1" dy="-1.2" font-style="italic" font-size="20.6" stroke="#333" stroke-width="0.3" textLength="14" lengthAdjust="spacingAndGlyphs">ϕ</tspan><tspan x="20.3" dy="1.2">6</tspan><tspan x="32.2" dy="5.1" font-size="30.2">*</tspan><tspan x="44 55.9 67.8 79.7" dy="-5.1">1040</tspan></text>
<text transform="translate(365.8 654.7) scale(0.930 1)" y="0" font-size="22.9" text-anchor="middle" fill="#333"><tspan x="6.4" dy="-1.2" font-style="italic" font-size="20.6" stroke="#333" stroke-width="0.3" textLength="14" lengthAdjust="spacingAndGlyphs">ϕ</tspan><tspan x="21.1 33.5" dy="1.2">16</tspan><tspan x="45.9" dy="5.1" font-size="30.2">*</tspan><tspan x="58.3 70.8 83.2" dy="-5.1">470</tspan></text>
<text transform="translate(416 584) rotate(-25.3) scale(0.930 1)" y="0" font-size="22.9" text-anchor="middle" fill="#333"><tspan x="6 17.9">60</tspan><tspan x="29.8" dy="5.1" font-size="30.2">*</tspan><tspan x="41.8 53.7" dy="-5.1">20</tspan><tspan x="65.6" dy="5.1" font-size="30.2">*</tspan><tspan x="77.6 89.5 101.5 113.4" dy="-5.1">2005</tspan><tspan x="125.3" dy="5.1" font-size="30.2">*</tspan><tspan x="137.3 146.6 161.1" dy="-5.1">1.2</tspan></text>
<text transform="translate(590.8 568.8) rotate(-23.2) scale(0.930 1)" y="0" font-size="22.9" text-anchor="middle" fill="#333"><tspan x="6.1" font-size="21.8">Φ</tspan><tspan x="18.2 30.4">25</tspan><tspan x="42.5" dy="5.1" font-size="30.2">*</tspan><tspan x="54.7 66.8 79" dy="-5.1">300</tspan></text>
<text transform="translate(663.3 566.4) rotate(-21.8) scale(0.930 1)" y="0" font-size="22.9" text-anchor="middle" fill="#333"><tspan x="6.3" font-size="21.8">Φ</tspan><tspan x="18.9 31.5">19</tspan></text>
<text transform="translate(42.9 477) rotate(90) scale(0.930 1)" y="0" font-size="22.9" text-anchor="middle" fill="#333"><tspan x="6.1 18.2 30.4">697</tspan></text>
<text transform="translate(755.7 402.5) rotate(90) scale(0.930 1)" y="0" font-size="22.9" text-anchor="middle" fill="#333"><tspan x="6.3 19 31.7">895</tspan></text>
<text transform="translate(622 456.8) rotate(90) scale(0.930 1)" y="0" font-size="22.9" text-anchor="middle" fill="#333"><tspan x="5.9 17.7 29.6">228</tspan></text>
</svg>
</body>
</html>
